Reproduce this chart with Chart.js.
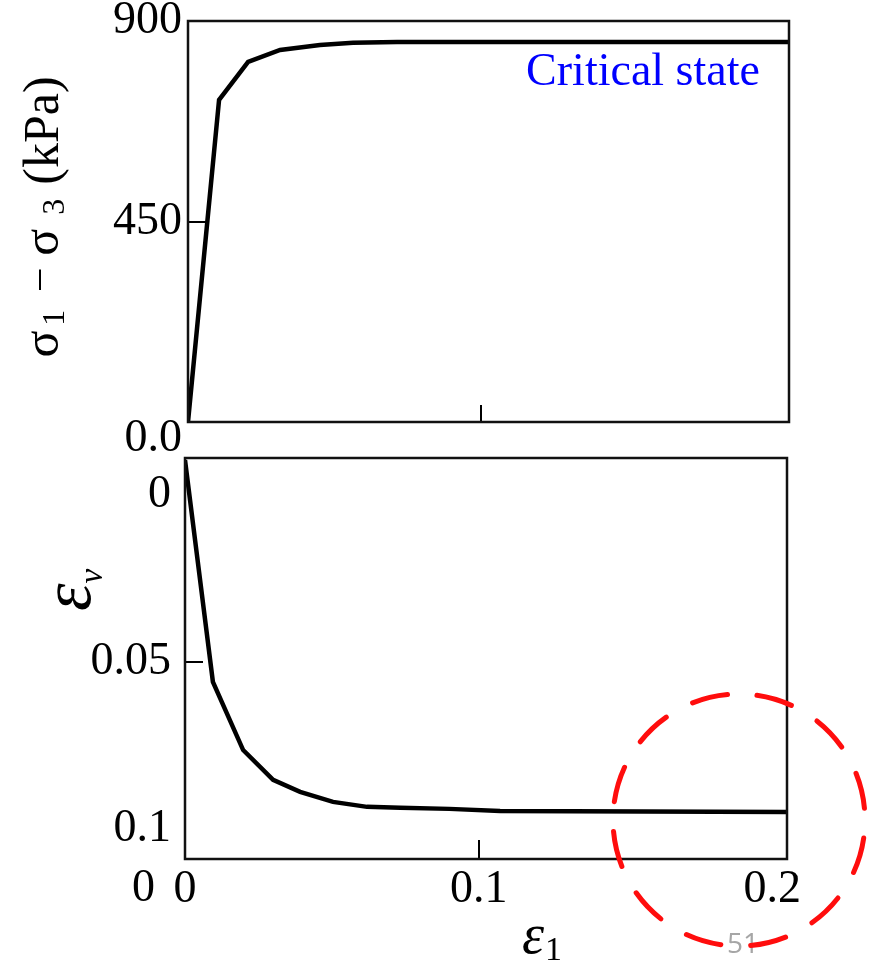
<!DOCTYPE html>
<html>
<head>
<meta charset="utf-8">
<script src="https://cdn.jsdelivr.net/npm/chart.js@4.4.1/dist/chart.umd.min.js"></script>
<style>
  html, body { margin: 0; padding: 0; background: #fff; }
  body { width: 879px; height: 964px; position: relative; overflow: hidden; }
  canvas { position: absolute; left: 0; }
  #top-chart { top: 0; }
  #bottom-chart { top: 440px; }
</style>
</head>
<body>
<canvas id="top-chart" width="879" height="470"></canvas>
<canvas id="bottom-chart" width="879" height="524"></canvas>
<script>
// ---- axial strain (shared x axis) ----
const STRAIN_TICKS  = [0, 0.1, 0.2];
const STRAIN_LABELS = ['0', '0.1', '0.2'];

// ---- deviator stress (kPa) vs axial strain ----
const stressX  = [0, 0.0106, 0.0205, 0.0314, 0.045, 0.0563, 0.0713, 0.086, 0.14, 0.205];
const deviator = [0, 723, 808, 835, 846, 851, 853, 853, 853, 853];
const STRESS_TICKS  = [0, 450, 900];
const STRESS_LABELS = ['0.0', '450', '900'];

// ---- volumetric strain vs axial strain ----
const volX      = [0, 0.0095, 0.0198, 0.030, 0.0392, 0.0504, 0.062, 0.0733, 0.090, 0.1073, 0.205];
const volStrain = [-0.0104, 0.056, 0.0764, 0.0853, 0.0889, 0.0919, 0.0934, 0.0937, 0.094, 0.0946, 0.0949];
const VOL_TICKS  = [0, 0.05, 0.1];
const VOL_LABELS = ['0', '0.05', '0.1'];

const SERIF = "'Liberation Serif', 'Times New Roman', serif";
const INK = '#000';

function pairs(xs, ys) {
  return xs.map((x, i) => ({ x, y: ys[i] }));
}

// only the middle tick gets an inward mark
function markAt(value) {
  return ctx => (ctx.tick && ctx.tick.value === value) ? INK : 'rgba(0,0,0,0)';
}

// text made of pieces with their own font / baseline shift (subscripts)
function drawRich(ctx, parts, x, y, angle) {
  ctx.save();
  ctx.translate(x, y);
  ctx.rotate(angle);
  ctx.textAlign = 'left';
  ctx.textBaseline = 'alphabetic';
  let total = 0;
  parts.forEach(p => {
    ctx.font = p.font;
    p.w = ctx.measureText(p.text).width;
    total += p.w + (p.gap || 0);
  });
  let cx = -total / 2;
  parts.forEach(p => {
    ctx.font = p.font;
    ctx.fillStyle = p.color || '#000';
    ctx.fillText(p.text, cx, p.dy || 0);
    cx += p.w + (p.gap || 0);
  });
  ctx.restore();
}

// box around the plot area
const framePlugin = {
  id: 'frame',
  afterDraw(chart) {
    const { ctx, chartArea: a } = chart;
    ctx.save();
    ctx.strokeStyle = '#111';
    ctx.lineWidth = 2.5;
    ctx.strokeRect(a.left, a.top, a.right - a.left, a.bottom - a.top);
    ctx.restore();
  }
};

const topText = {
  id: 'topText',
  afterDraw(chart) {
    const ctx = chart.ctx;
    // y axis title: sigma1 - sigma3 (kPa)
    drawRich(ctx, [
      { text: 'σ', font: `50px ${SERIF}`, gap: 5 },
      { text: '1', font: `32px ${SERIF}`, dy: 6, gap: 20 },
      { text: '–', font: `40px ${SERIF}`, dy: -9, gap: 14 },
      { text: 'σ', font: `50px ${SERIF}`, gap: 14 },
      { text: '3', font: `32px ${SERIF}`, dy: 6, gap: 14 },
      { text: '(kPa)', font: `50px ${SERIF}` }
    ], 58, 217, -Math.PI / 2);

    ctx.save();
    ctx.font = `46px ${SERIF}`;
    ctx.fillStyle = '#0000ff';
    ctx.textAlign = 'center';
    ctx.textBaseline = 'alphabetic';
    ctx.fillText('Critical state', 643, 85);
    ctx.restore();
  }
};

const bottomText = {
  id: 'bottomText',
  afterDraw(chart) {
    const ctx = chart.ctx;
    // y axis title: eps_v
    drawRich(ctx, [
      { text: 'ε', font: `italic 70px ${SERIF}`, gap: 0 },
      { text: 'v', font: `italic 33px ${SERIF}`, dy: 12 }
    ], 90, 150, -Math.PI / 2);

    // x axis title: eps_1
    drawRich(ctx, [
      { text: 'ε', font: `italic 56px ${SERIF}`, gap: 1 },
      { text: '1', font: `34px ${SERIF}`, dy: 7 }
    ], 542, 513, 0);

    ctx.save();
    // lone zero left of the strain axis
    ctx.font = `46px ${SERIF}`;
    ctx.fillStyle = '#000';
    ctx.textAlign = 'right';
    ctx.textBaseline = 'middle';
    ctx.fillText('0', 155, 449);

    // slide number
    ctx.font = "28px 'Open Sans', 'Liberation Sans', sans-serif";
    ctx.fillStyle = '#a6a6a6';
    ctx.textAlign = 'center';
    ctx.textBaseline = 'alphabetic';
    ctx.fillText('51', 743, 513);

    // red dashed highlight around the end of the curve
    const r = 126;
    ctx.strokeStyle = '#ff0d0d';
    ctx.lineWidth = 5;
    ctx.lineCap = 'round';
    ctx.setLineDash([36, 2 * Math.PI * r / 12 - 36]);
    ctx.beginPath();
    const start = -Math.PI / 2 + 18 / r;
    ctx.arc(739, 380, r, start, start + 2 * Math.PI);
    ctx.stroke();
    ctx.restore();
  }
};

function lineSet(data) {
  return {
    data,
    borderColor: INK,
    borderWidth: 4.5,
    pointRadius: 0,
    tension: 0,
    fill: false
  };
}

new Chart(document.getElementById('top-chart'), {
  type: 'line',
  data: { datasets: [lineSet(pairs(stressX, deviator))] },
  options: {
    responsive: false,
    animation: false,
    layout: { padding: { left: 0, top: 21, right: 90, bottom: 48 } },
    plugins: { legend: { display: false }, tooltip: { enabled: false } },
    scales: {
      x: {
        type: 'linear', min: 0, max: 0.205,
        afterBuildTicks: s => { s.ticks = STRAIN_TICKS.map(value => ({ value })); },
        ticks: { display: false },
        grid: { drawOnChartArea: false, tickLength: -17, lineWidth: 2, color: markAt(0.1) },
        border: { display: false },
        afterFit: s => { s.height = 0; s.paddingLeft = 0; s.paddingRight = 0; }
      },
      y: {
        type: 'linear', min: 0, max: 900,
        afterBuildTicks: s => { s.ticks = STRESS_TICKS.map(value => ({ value })); },
        ticks: {
          color: '#000',
          padding: 24,
          font: { family: SERIF, size: 46, lineHeight: 0.74 },
          // the zero label sits a little below the axis corner
          callback: (v, i) => i === 0 ? ['', STRESS_LABELS[i]] : STRESS_LABELS[i]
        },
        grid: { drawOnChartArea: false, tickLength: -18, lineWidth: 2, color: markAt(450) },
        border: { display: false },
        afterFit: s => { s.width = 188; s.paddingTop = 0; s.paddingBottom = 0; }
      }
    }
  },
  plugins: [framePlugin, topText]
});

new Chart(document.getElementById('bottom-chart'), {
  type: 'line',
  data: { datasets: [lineSet(pairs(volX, volStrain))] },
  options: {
    responsive: false,
    animation: false,
    layout: { padding: { left: 0, top: 18, right: 92, bottom: 0 } },
    plugins: { legend: { display: false }, tooltip: { enabled: false } },
    scales: {
      x: {
        type: 'linear', min: 0, max: 0.205,
        afterBuildTicks: s => { s.ticks = STRAIN_TICKS.map(value => ({ value })); },
        ticks: {
          color: '#000',
          padding: 22,
          maxRotation: 0,
          autoSkip: false,
          font: { family: SERIF, size: 46 },
          callback: (v, i) => STRAIN_LABELS[i]
        },
        grid: { drawOnChartArea: false, tickLength: -19, lineWidth: 2, color: markAt(0.1) },
        border: { display: false },
        afterFit: s => { s.height = 105; s.paddingLeft = 0; s.paddingRight = 0; }
      },
      y: {
        type: 'linear', reverse: true, min: -0.011, max: 0.109,
        afterBuildTicks: s => { s.ticks = VOL_TICKS.map(value => ({ value })); },
        ticks: {
          color: '#000',
          padding: 32,
          font: { family: SERIF, size: 46 },
          callback: (v, i) => VOL_LABELS[i]
        },
        grid: { drawOnChartArea: false, tickLength: -18, lineWidth: 2, color: markAt(0.05) },
        border: { display: false },
        afterFit: s => { s.width = 185; s.paddingTop = 0; s.paddingBottom = 0; }
      }
    }
  },
  plugins: [framePlugin, bottomText]
});
</script>
</body>
</html>
